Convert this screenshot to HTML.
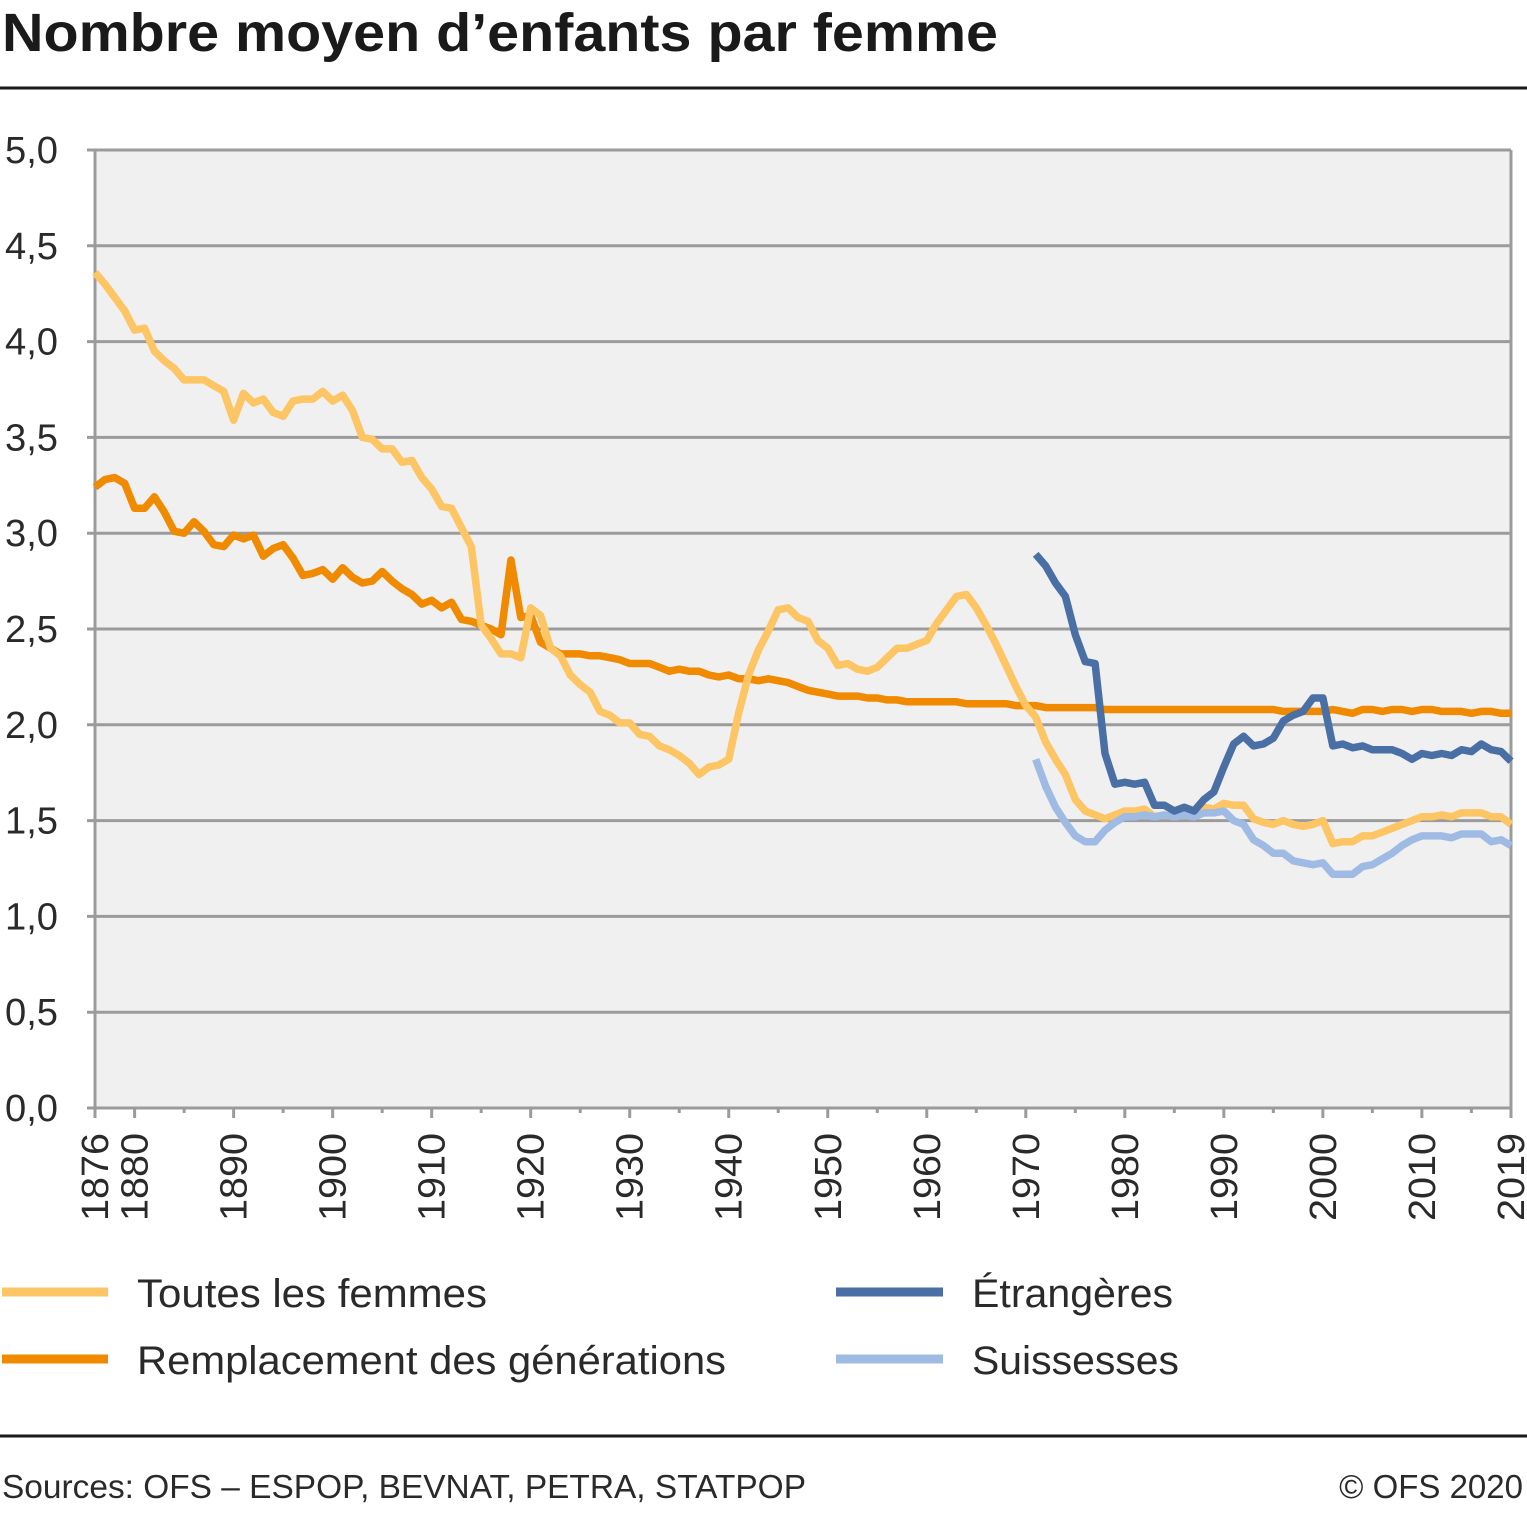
<!DOCTYPE html>
<html><head><meta charset="utf-8"><style>
body{margin:0;background:#fff;width:1527px;height:1508px;overflow:hidden;font-family:"Liberation Sans",sans-serif;}
</style></head><body>
<svg id="chart" width="1527" height="1508" xmlns="http://www.w3.org/2000/svg" font-family="Liberation Sans, sans-serif">
<text x="2" y="51" font-size="54" font-weight="bold" fill="#1a1a1a" textLength="996" lengthAdjust="spacingAndGlyphs">Nombre moyen d’enfants par femme</text>
<line x1="0" y1="88" x2="1527" y2="88" stroke="#1a1a1a" stroke-width="3"/>
<g id="plot"></g>
<g font-size="40" fill="#2a2a2a">
<line x1="2" y1="1292" x2="108" y2="1292" stroke="#fdc564" stroke-width="9"/>
<text x="137" y="1307" textLength="350" lengthAdjust="spacingAndGlyphs">Toutes les femmes</text>
<line x1="2" y1="1359" x2="108" y2="1359" stroke="#f08a00" stroke-width="9"/>
<text x="137" y="1374" textLength="589" lengthAdjust="spacingAndGlyphs">Remplacement des générations</text>
<line x1="836" y1="1292" x2="943" y2="1292" stroke="#4a6fa5" stroke-width="9"/>
<text x="972" y="1307" textLength="201" lengthAdjust="spacingAndGlyphs">Étrangères</text>
<line x1="836" y1="1359" x2="943" y2="1359" stroke="#9fbbe3" stroke-width="9"/>
<text x="972" y="1374" textLength="207" lengthAdjust="spacingAndGlyphs">Suissesses</text>
</g>
<line x1="0" y1="1436" x2="1527" y2="1436" stroke="#1a1a1a" stroke-width="3"/>
<text x="2" y="1498" font-size="33" fill="#2a2a2a" textLength="804" lengthAdjust="spacingAndGlyphs">Sources: OFS – ESPOP, BEVNAT, PETRA, STATPOP</text>
<text x="1523" y="1498" font-size="33" fill="#2a2a2a" text-anchor="end">© OFS 2020</text>
</svg>
<script>
const yTicks=[0,0.5,1,1.5,2,2.5,3,3.5,4,4.5,5];
const yTickLabels=["0,0","0,5","1,0","1,5","2,0","2,5","3,0","3,5","4,0","4,5","5,0"];
const xTickYears=[1876,1880,1890,1900,1910,1920,1930,1940,1950,1960,1970,1980,1990,2000,2010,2019];
const startYear=1876, endYear=2019;
const toutes=[4.36,4.30,4.23,4.16,4.06,4.07,3.95,3.90,3.86,3.80,3.80,3.80,3.77,3.74,3.59,3.73,3.68,3.70,3.63,3.61,3.69,3.70,3.70,3.74,3.69,3.72,3.64,3.50,3.49,3.44,3.44,3.37,3.38,3.29,3.23,3.14,3.13,3.03,2.93,2.52,2.45,2.37,2.37,2.35,2.61,2.57,2.40,2.36,2.26,2.21,2.17,2.07,2.05,2.01,2.01,1.95,1.94,1.89,1.87,1.84,1.80,1.74,1.78,1.79,1.82,2.06,2.26,2.39,2.49,2.60,2.61,2.56,2.54,2.44,2.40,2.31,2.32,2.29,2.28,2.30,2.35,2.40,2.40,2.42,2.44,2.53,2.60,2.67,2.68,2.61,2.52,2.42,2.31,2.20,2.10,2.04,1.91,1.82,1.74,1.61,1.55,1.53,1.51,1.53,1.55,1.55,1.56,1.52,1.53,1.52,1.53,1.52,1.57,1.56,1.59,1.58,1.58,1.51,1.49,1.48,1.50,1.48,1.47,1.48,1.50,1.38,1.39,1.39,1.42,1.42,1.44,1.46,1.48,1.50,1.52,1.52,1.53,1.52,1.54,1.54,1.54,1.52,1.52,1.48];
const remplacement=[3.24,3.28,3.29,3.26,3.13,3.13,3.19,3.11,3.01,3.00,3.06,3.01,2.94,2.93,2.99,2.97,2.99,2.88,2.92,2.94,2.87,2.78,2.79,2.81,2.76,2.82,2.77,2.74,2.75,2.80,2.75,2.71,2.68,2.63,2.65,2.61,2.64,2.55,2.54,2.52,2.50,2.47,2.86,2.56,2.57,2.43,2.40,2.37,2.37,2.37,2.36,2.36,2.35,2.34,2.32,2.32,2.32,2.30,2.28,2.29,2.28,2.28,2.26,2.25,2.26,2.24,2.24,2.23,2.24,2.23,2.22,2.20,2.18,2.17,2.16,2.15,2.15,2.15,2.14,2.14,2.13,2.13,2.12,2.12,2.12,2.12,2.12,2.12,2.11,2.11,2.11,2.11,2.11,2.10,2.10,2.10,2.09,2.09,2.09,2.09,2.09,2.09,2.08,2.08,2.08,2.08,2.08,2.08,2.08,2.08,2.08,2.08,2.08,2.08,2.08,2.08,2.08,2.08,2.08,2.08,2.07,2.07,2.07,2.07,2.07,2.08,2.07,2.06,2.08,2.08,2.07,2.08,2.08,2.07,2.08,2.08,2.07,2.07,2.07,2.06,2.07,2.07,2.06,2.06];
const etrStart=1971;
const etrangeres=[2.89,2.83,2.74,2.67,2.47,2.33,2.32,1.85,1.69,1.70,1.69,1.70,1.58,1.58,1.55,1.57,1.55,1.61,1.65,1.78,1.90,1.94,1.89,1.90,1.93,2.02,2.05,2.07,2.14,2.14,1.89,1.90,1.88,1.89,1.87,1.87,1.87,1.85,1.82,1.85,1.84,1.85,1.84,1.87,1.86,1.90,1.87,1.86,1.81];
const suissesses=[1.82,1.68,1.57,1.49,1.42,1.39,1.39,1.45,1.49,1.52,1.52,1.53,1.52,1.53,1.52,1.53,1.52,1.54,1.54,1.55,1.50,1.48,1.40,1.37,1.33,1.33,1.29,1.28,1.27,1.28,1.22,1.22,1.22,1.26,1.27,1.30,1.33,1.37,1.40,1.42,1.42,1.42,1.41,1.43,1.43,1.43,1.39,1.40,1.37];

const X0=95,X1=1511,Y0=1108,Y1=150;
const xs=yr=>X0+(yr-startYear)*(X1-X0)/(endYear-startYear);
const ys=v=>Y0-(v/5)*(Y0-Y1);
const NS="http://www.w3.org/2000/svg";
const g=document.getElementById('plot');
function mk(tag,attrs,parent){const e=document.createElementNS(NS,tag);for(const k in attrs)e.setAttribute(k,attrs[k]);(parent||g).appendChild(e);return e;}
let bg=mk('rect',{x:X0,y:Y1,width:X1-X0,height:Y0-Y1,fill:'#f0f0f0'});


yTicks.forEach((t,i)=>{
  const y=ys(t);
  let l=mk('line',{x1:87,x2:X1,y1:y,y2:y,stroke:'#9b9b9b','stroke-width':3});
  
  
  let tx=mk('text',{x:5,y:y+13,'font-size':38,fill:'#2a2a2a',textLength:53,lengthAdjust:'spacingAndGlyphs'});
  tx.textContent=yTickLabels[i];
  
  
});
let la=mk('line',{x1:X0,x2:X0,y1:Y1,y2:Y0,stroke:'#9b9b9b','stroke-width':3});


let ra=mk('line',{x1:X1,x2:X1,y1:Y1,y2:Y0,stroke:'#9b9b9b','stroke-width':3});


for(let yr=1885;yr<=2015;yr+=10){
  let t=mk('line',{x1:xs(yr),x2:xs(yr),y1:Y0,y2:Y0+5,stroke:'#9b9b9b','stroke-width':3});
  
  
}
xTickYears.forEach(yr=>{
  const x=xs(yr);
  let t=mk('line',{x1:x,x2:x,y1:Y0,y2:Y0+10,stroke:'#9b9b9b','stroke-width':3});
  
  
  let tx=mk('text',{transform:`translate(${x+13},1133) rotate(-90)`,'font-size':38,fill:'#2a2a2a','text-anchor':'end',textLength:88,lengthAdjust:'spacingAndGlyphs'});
  tx.textContent=yr;
  
  
});
function line(vals,start,color,name){
  const d=vals.map((v,i)=>(i?'L':'M')+xs(start+i).toFixed(1)+' '+ys(v).toFixed(1)).join(' ');
  let p=mk('path',{d:d,fill:'none',stroke:color,'stroke-width':7.5,'stroke-linejoin':'round'});
  
  
}
line(remplacement,startYear,'#f08a00','series-remplacement');
line(toutes,startYear,'#fdc564','series-toutes-les-femmes');
line(suissesses,etrStart,'#9fbbe3','series-suissesses');
line(etrangeres,etrStart,'#4a6fa5','series-etrangeres');
</script>
</body></html>
